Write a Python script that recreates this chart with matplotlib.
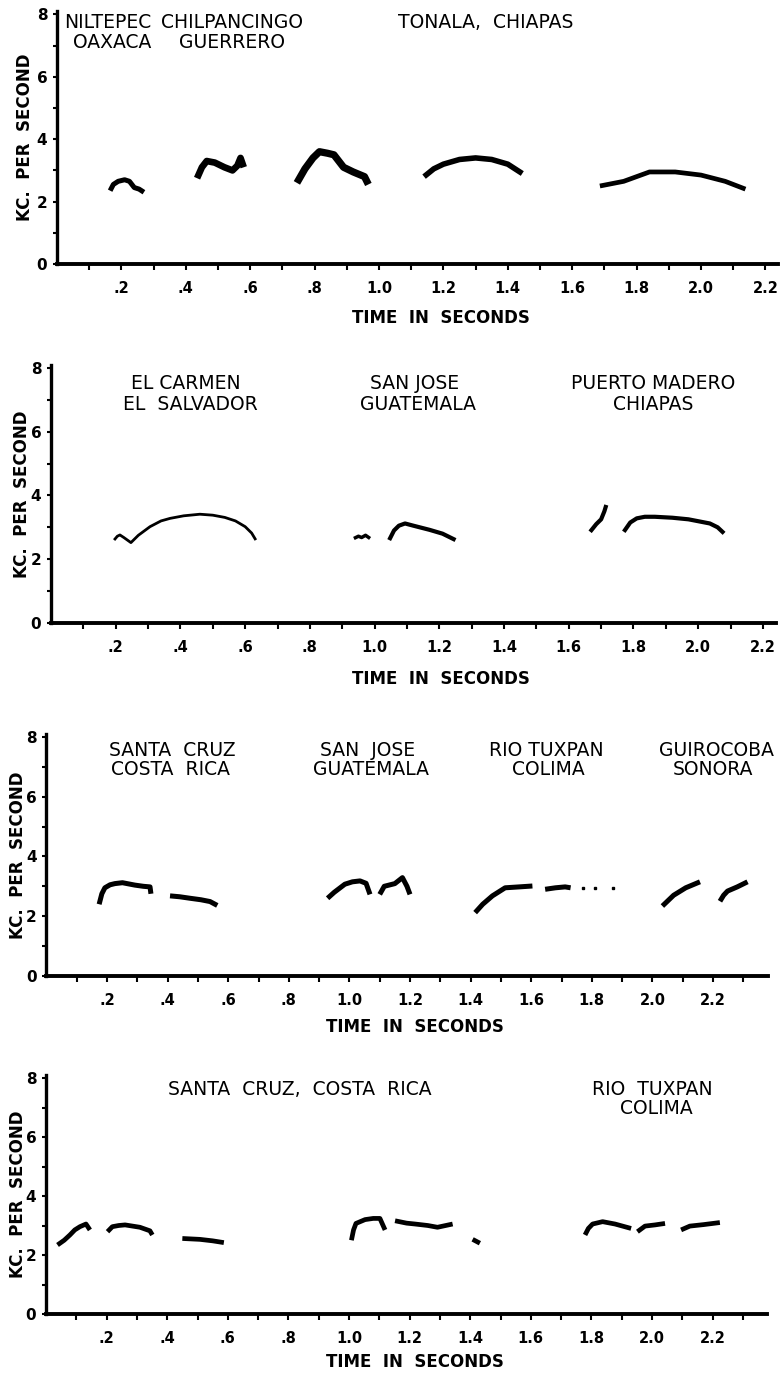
import matplotlib
matplotlib.use('Agg')
import matplotlib.pyplot as plt

# ---- panel 1 : Niltepec / Chilpancingo / Tonala ----
niltepec_t = [0.165, 0.175, 0.19, 0.21, 0.225, 0.24, 0.255, 0.27]
niltepec_kc = [2.35, 2.55, 2.65, 2.7, 2.65, 2.45, 2.4, 2.3]
chilpancingo_t = [0.435, 0.45, 0.465, 0.49, 0.52, 0.545, 0.56, 0.57, 0.58]
chilpancingo_kc = [2.75, 3.1, 3.3, 3.25, 3.1, 3.0, 3.15, 3.4, 3.1]
tonala_a_t = [0.745, 0.77, 0.795, 0.815, 0.84, 0.86, 0.875, 0.89, 0.92, 0.955, 0.967]
tonala_a_kc = [2.6, 3.05, 3.4, 3.6, 3.55, 3.5, 3.3, 3.1, 2.95, 2.8, 2.55]
tonala_b_t = [1.14, 1.17, 1.2, 1.25, 1.3, 1.35, 1.4, 1.445]
tonala_b_kc = [2.8, 3.05, 3.2, 3.35, 3.4, 3.35, 3.2, 2.9]
tonala_c_t = [1.686, 1.76, 1.84, 1.92, 2.0, 2.075, 2.138]
tonala_c_kc = [2.5, 2.65, 2.95, 2.95, 2.85, 2.65, 2.4]

# ---- panel 2 : El Carmen / San Jose / Puerto Madero ----
carmen_t = [0.195, 0.205, 0.213, 0.225, 0.247, 0.27, 0.306, 0.34, 0.368, 0.41,
            0.46, 0.5, 0.537, 0.57, 0.6, 0.62, 0.633]
carmen_kc = [2.6, 2.72, 2.76, 2.68, 2.52, 2.75, 3.02, 3.2, 3.28, 3.36,
             3.41, 3.38, 3.31, 3.2, 3.02, 2.82, 2.6]
sanjose2_a_t = [0.936, 0.95, 0.96, 0.972, 0.986]
sanjose2_a_kc = [2.65, 2.72, 2.68, 2.75, 2.65]
sanjose2_b_t = [1.045, 1.06, 1.075, 1.094, 1.12, 1.17, 1.21, 1.25]
sanjose2_b_kc = [2.6, 2.9, 3.05, 3.12, 3.05, 2.92, 2.8, 2.6]
madero_a_t = [1.666, 1.685, 1.7, 1.71, 1.716]
madero_a_kc = [2.86, 3.1, 3.25, 3.5, 3.7]
madero_b_t = [1.77, 1.79, 1.81, 1.835, 1.866, 1.92, 1.97, 2.036, 2.06, 2.08]
madero_b_kc = [2.86, 3.15, 3.28, 3.33, 3.33, 3.3, 3.25, 3.12, 3.0, 2.81]

# ---- panel 3 : Santa Cruz / San Jose / Rio Tuxpan / Guirocoba ----
santa3_a_t = [0.174, 0.183, 0.193, 0.21, 0.226, 0.251, 0.292, 0.32, 0.342, 0.345]
santa3_a_kc = [2.4, 2.75, 2.95, 3.05, 3.09, 3.12, 3.04, 3.0, 2.98, 2.75]
santa3_b_t = [0.408, 0.44, 0.474, 0.51, 0.54, 0.564]
santa3_b_kc = [2.68, 2.65, 2.6, 2.55, 2.49, 2.36]
sanjose3_a_t = [0.928, 0.95, 0.985, 1.01, 1.035, 1.055, 1.068]
sanjose3_a_kc = [2.6, 2.8, 3.07, 3.15, 3.18, 3.1, 2.73]
sanjose3_b_t = [1.1, 1.115, 1.15, 1.175, 1.19, 1.2]
sanjose3_b_kc = [2.73, 3.0, 3.09, 3.29, 3.0, 2.73]
tuxpan3_a_t = [1.415, 1.44, 1.472, 1.514, 1.56, 1.604]
tuxpan3_a_kc = [2.12, 2.4, 2.68, 2.95, 2.98, 3.01]
tuxpan3_b_t = [1.646, 1.68, 1.712, 1.73]
tuxpan3_b_kc = [2.9, 2.95, 2.98, 2.95]
tuxpan3_dots_t = [1.77, 1.81, 1.87]
tuxpan3_dots_kc = [2.93, 2.93, 2.93]
guiro_a_t = [2.033, 2.07, 2.11, 2.157]
guiro_a_kc = [2.34, 2.7, 2.95, 3.15]
guiro_b_t = [2.223, 2.235, 2.248, 2.28, 2.314]
guiro_b_kc = [2.5, 2.7, 2.84, 2.98, 3.15]

# ---- panel 4 : Santa Cruz, Costa Rica / Rio Tuxpan ----
santa4_a_t = [0.038, 0.06, 0.079, 0.095, 0.112, 0.132, 0.145]
santa4_a_kc = [2.34, 2.5, 2.68, 2.85, 2.96, 3.05, 2.85]
santa4_b_t = [0.203, 0.219, 0.24, 0.261, 0.31, 0.343, 0.351]
santa4_b_kc = [2.79, 2.96, 3.0, 3.02, 2.94, 2.82, 2.68]
santa4_c_t = [0.45, 0.508, 0.55, 0.587]
santa4_c_kc = [2.56, 2.53, 2.48, 2.42]
santa4_d_t = [1.008, 1.015, 1.023, 1.053, 1.08, 1.102, 1.119]
santa4_d_kc = [2.5, 2.85, 3.07, 3.2, 3.24, 3.24, 2.85]
santa4_e_t = [1.152, 1.19, 1.218, 1.26, 1.292, 1.342]
santa4_e_kc = [3.16, 3.08, 3.05, 3.0, 2.94, 3.05]
santa4_f_t = [1.408, 1.432]
santa4_f_kc = [2.53, 2.4]
tuxpan4_a_t = [1.779, 1.79, 1.804, 1.837, 1.878, 1.931]
tuxpan4_a_kc = [2.68, 2.9, 3.05, 3.13, 3.05, 2.9]
tuxpan4_b_t = [1.952, 1.977, 2.01, 2.043]
tuxpan4_b_kc = [2.79, 2.98, 3.02, 3.07]
tuxpan4_c_t = [2.096, 2.125, 2.17, 2.224]
tuxpan4_c_kc = [2.85, 2.98, 3.03, 3.1]

# place names
labels1 = ['NILTEPEC', 'OAXACA', 'CHILPANCINGO', 'GUERRERO', 'TONALA,  CHIAPAS']
labels2 = ['EL CARMEN', 'EL  SALVADOR', 'SAN JOSE', 'GUATEMALA', 'PUERTO MADERO', 'CHIAPAS']
labels3 = ['SANTA  CRUZ', 'COSTA  RICA', 'SAN  JOSE', 'GUATEMALA', 'RIO TUXPAN', 'COLIMA',
           'GUIROCOBA', 'SONORA']
labels4 = ['SANTA  CRUZ,  COSTA  RICA', 'RIO  TUXPAN', 'COLIMA']

y_ticklabels = ['0', '2', '4', '6', '8']
x_ticklabels = ['.2', '.4', '.6', '.8', '1.0', '1.2', '1.4', '1.6', '1.8', '2.0', '2.2']

W, H = 783, 1373
fig = plt.figure(figsize=(W / 100, H / 100), dpi=100)

def make_panel(x0, pps, y0, ppk, tmax, ntick):
    # x0/y0 = pixel of t=0 / kc=0, pps/ppk = pixels per unit
    top = y0 - 8.1 * ppk
    ax = fig.add_axes([x0 / W, 1 - y0 / H, tmax * pps / W, (y0 - top) / H])
    ax.set_xlim(0, tmax)
    ax.set_ylim(0, 8.1)
    for s in ['top', 'right']:
        ax.spines[s].set_visible(False)
    ax.spines['left'].set_linewidth(2.4)
    ax.spines['bottom'].set_linewidth(2.8)
    xt = [round(0.1 * i, 1) for i in range(1, ntick + 1)]
    xl = []
    for v in xt:
        if round(v * 10) % 2 == 0:
            xl.append(x_ticklabels[round(v * 10) // 2 - 1])
        else:
            xl.append('')
    ax.set_xticks(xt)
    ax.set_xticklabels(xl, fontsize=10.5, fontweight='bold')
    ax.set_yticks(range(0, 9))
    ax.set_yticklabels([y_ticklabels[i // 2] if i % 2 == 0 else '' for i in range(9)],
                       fontsize=11, fontweight='bold')
    ax.tick_params(axis='x', direction='out', length=4, width=1.5, pad=8)
    ax.tick_params(axis='y', direction='out', length=3, width=1.5, pad=4)
    ax.set_ylabel('KC.  PER  SECOND', fontsize=12, fontweight='bold')
    ax.set_xlabel('TIME  IN  SECONDS', fontsize=12, fontweight='bold')
    return ax, top

def set_labels(ax, x0, pps, y0, ppk, top, ylab_px, xlab_px, xlab_top):
    w = ax.get_xlim()[1] * pps
    h = y0 - top
    ax.yaxis.set_label_coords((ylab_px - x0) / w, 0.5)
    ax.xaxis.set_label_coords((xlab_px - x0) / w, (y0 - xlab_top) / h)

def trace(ax, t, kc, lw):
    ax.plot(t, kc, color='black', lw=lw, solid_capstyle='butt', solid_joinstyle='round')

txt = dict(fontsize=13.5, color='black', va='baseline', ha='center')

# panel 1
ax1, top1 = make_panel(57, 322, 264, 31.2, 2.24, 22)
set_labels(ax1, 57, 322, 264, 31.2, top1, 34, 441, 309)
trace(ax1, niltepec_t, niltepec_kc, 3.6)
trace(ax1, chilpancingo_t, chilpancingo_kc, 4.8)
trace(ax1, tonala_a_t, tonala_a_kc, 5.2)
trace(ax1, tonala_b_t, tonala_b_kc, 4.0)
trace(ax1, tonala_c_t, tonala_c_kc, 3.4)
ax1.text(0.157, 7.56, labels1[0], **txt)
ax1.text(0.172, 6.92, labels1[1], **txt)
ax1.text(0.542, 7.56, labels1[2], **txt)
ax1.text(0.542, 6.92, labels1[3], **txt)
ax1.text(1.33, 7.56, labels1[4], **txt)

# panel 2
ax2, top2 = make_panel(51, 323.6, 623, 31.9, 2.24, 22)
set_labels(ax2, 51, 323.6, 623, 31.9, top2, 31, 441, 670)
trace(ax2, carmen_t, carmen_kc, 2.0)
trace(ax2, sanjose2_a_t, sanjose2_a_kc, 2.5)
trace(ax2, sanjose2_b_t, sanjose2_b_kc, 3.0)
trace(ax2, madero_a_t, madero_a_kc, 3.0)
trace(ax2, madero_b_t, madero_b_kc, 3.0)
ax2.text(0.417, 7.35, labels2[0], **txt)
ax2.text(0.43, 6.68, labels2[1], **txt)
ax2.text(1.125, 7.35, labels2[2], **txt)
ax2.text(1.133, 6.68, labels2[3], **txt)
ax2.text(1.862, 7.35, labels2[4], **txt)
ax2.text(1.862, 6.68, labels2[5], **txt)

# panel 3
ax3, top3 = make_panel(46.4, 303, 976, 29.9, 2.38, 23)
set_labels(ax3, 46.4, 303, 976, 29.9, top3, 27, 415, 1018)
for t, kc in [(santa3_a_t, santa3_a_kc), (santa3_b_t, santa3_b_kc),
              (sanjose3_a_t, sanjose3_a_kc), (sanjose3_b_t, sanjose3_b_kc),
              (tuxpan3_a_t, tuxpan3_a_kc), (tuxpan3_b_t, tuxpan3_b_kc),
              (guiro_a_t, guiro_a_kc), (guiro_b_t, guiro_b_kc)]:
    trace(ax3, t, kc, 3.6)
ax3.plot(tuxpan3_dots_t, tuxpan3_dots_kc, 's', color='black', ms=1.5)
ax3.text(0.416, 7.36, labels3[0], **txt)
ax3.text(0.408, 6.72, labels3[1], **txt)
ax3.text(1.06, 7.36, labels3[2], **txt)
ax3.text(1.07, 6.72, labels3[3], **txt)
ax3.text(1.649, 7.36, labels3[4], **txt)
ax3.text(1.657, 6.72, labels3[5], **txt)
ax3.text(2.21, 7.36, labels3[6], **txt)
ax3.text(2.2, 6.72, labels3[7], **txt)

# panel 4
ax4, top4 = make_panel(46, 303, 1314, 29.5, 2.38, 23)
set_labels(ax4, 46, 303, 1314, 29.5, top4, 27, 415, 1353)
for t, kc in [(santa4_a_t, santa4_a_kc), (santa4_b_t, santa4_b_kc), (santa4_c_t, santa4_c_kc),
              (santa4_d_t, santa4_d_kc), (santa4_e_t, santa4_e_kc), (santa4_f_t, santa4_f_kc),
              (tuxpan4_a_t, tuxpan4_a_kc), (tuxpan4_b_t, tuxpan4_b_kc), (tuxpan4_c_t, tuxpan4_c_kc)]:
    trace(ax4, t, kc, 3.4)
ax4.text(0.838, 7.42, labels4[0], **txt)
ax4.text(2.0, 7.42, labels4[1], **txt)
ax4.text(2.013, 6.78, labels4[2], **txt)

fig.savefig('out.png', dpi=100)
